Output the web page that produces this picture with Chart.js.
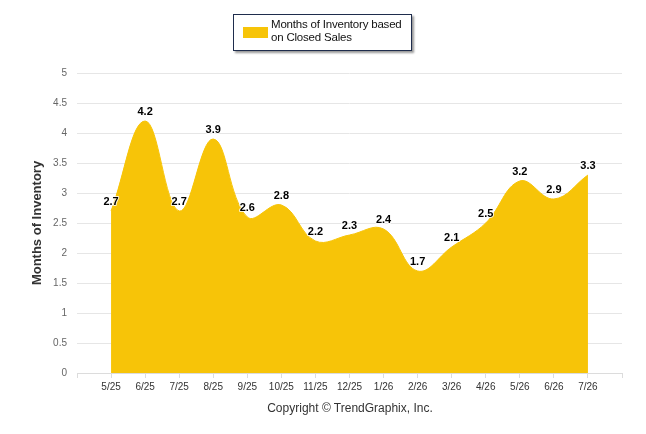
<!DOCTYPE html>
<html>
<head>
<meta charset="utf-8">
<script src="https://cdn.jsdelivr.net/npm/chart.js@4"></script>
<style>
    body { margin: 0; background: #fff; font-family: "Liberation Sans", Arial, sans-serif; }
    #wrap { position: relative; width: 646px; height: 434px; }
    #chart { position: absolute; left: 0; top: 0; }
    #legend {
        position: absolute; left: 233px; top: 14px; width: 177px; height: 35px;
        border: 1.5px solid #1f2d4d; box-shadow: 2px 2px 2px #999; background: #fff;
    }
    #legend .swatch { position: absolute; left: 9px; top: 12px; width: 25px; height: 11px; background: #f7c408; }
    #legend .text {
        position: absolute; left: 37px; top: 3px; font-size: 11.5px; line-height: 13px;
        color: #111; white-space: nowrap; letter-spacing: -0.2px;
    }
    #copyright { position: absolute; left: 0; width: 700px; top: 401px; text-align: center; font-size: 12px; color: #333; }
</style>
</head>
<body>
<div id="wrap">
    <canvas id="chart" width="646" height="434"></canvas>
    <div id="legend"><div class="swatch"></div><div class="text">Months of Inventory based<br>on Closed Sales</div></div>
    <div id="copyright">Copyright &copy; TrendGraphix, Inc.</div>
</div>
<script>
// months shown on the x axis
const months = ['5/25', '6/25', '7/25', '8/25', '9/25', '10/25', '11/25', '12/25',
    '1/26', '2/26', '3/26', '4/26', '5/26', '6/26', '7/26'];
// months of inventory based on closed sales
const inventory = [2.7, 4.2, 2.7, 3.9, 2.6, 2.8, 2.2, 2.3, 2.4, 1.7, 2.1, 2.5, 3.2, 2.9, 3.3];
const yTicks = [0, 0.5, 1, 1.5, 2, 2.5, 3, 3.5, 4, 4.5, 5];

const fillColor = '#f7c408';

// draws the value above every point
const valueLabels = {
    id: 'valueLabels',
    afterDatasetsDraw(chart) {
        const ctx = chart.ctx;
        const meta = chart.getDatasetMeta(0);
        ctx.save();
        ctx.font = 'bold 11px "Liberation Sans", Arial, sans-serif';
        ctx.textAlign = 'center';
        ctx.textBaseline = 'middle';
        ctx.lineJoin = 'round';
        meta.data.forEach((pt, i) => {
            const txt = inventory[i].toFixed(1);
            ctx.strokeStyle = 'rgba(255,255,255,0.8)';
            ctx.lineWidth = 2;
            ctx.strokeText(txt, pt.x, pt.y - 9);
            ctx.fillStyle = '#000';
            ctx.fillText(txt, pt.x, pt.y - 9);
        });
        ctx.restore();
    }
};

new Chart(document.getElementById('chart').getContext('2d'), {
    type: 'line',
    data: {
        datasets: [{
            data: inventory.map((v, i) => ({ x: i, y: v })),
            borderColor: fillColor,
            backgroundColor: fillColor,
            borderWidth: 1,
            fill: 'origin',
            tension: 0.4,
            pointRadius: 0
        }]
    },
    options: {
        responsive: false,
        animation: false,
        layout: { padding: { left: 0, right: 24, top: 73, bottom: 31 } },
        plugins: { legend: { display: false }, tooltip: { enabled: false } },
        scales: {
            x: {
                type: 'linear',
                min: -1,
                max: months.length,
                afterFit: (axis) => { axis.height = 30; },
                afterBuildTicks: (axis) => {
                    const t = [];
                    for (let i = -1; i <= months.length; i++) t.push({ value: i });
                    axis.ticks = t;
                },
                ticks: {
                    autoSkip: false,
                    maxRotation: 0,
                    padding: 3,
                    color: '#333',
                    font: { size: 10, family: '"Liberation Sans", Arial, sans-serif' },
                    callback: (v) => months[v] || ''
                },
                grid: { drawOnChartArea: false, drawTicks: true, tickLength: 5, color: '#dcdcdc' },
                border: { display: true, color: '#dcdcdc' }
            },
            y: {
                min: 0,
                max: 5,
                afterFit: (axis) => { axis.width = 77; },
                afterBuildTicks: (axis) => { axis.ticks = yTicks.map(v => ({ value: v })); },
                ticks: {
                    padding: 10,
                    color: '#666',
                    font: { size: 10, family: '"Liberation Sans", Arial, sans-serif' },
                    callback: (v) => String(v)
                },
                grid: { color: '#e6e6e6', drawTicks: false },
                border: { display: false },
                title: {
                    display: true,
                    text: 'Months of Inventory',
                    color: '#333',
                    padding: { top: 30, bottom: 0 },
                    font: { size: 13, weight: 'bold', family: '"Liberation Sans", Arial, sans-serif' }
                }
            }
        }
    },
    plugins: [valueLabels]
});
</script>
</body>
</html>
